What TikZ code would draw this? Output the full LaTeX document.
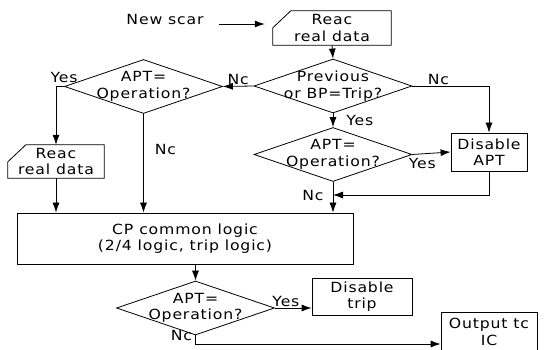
\documentclass[tikz,border=0pt]{standalone}
\usepackage{fontspec}
\setmainfont{DejaVu Sans}[FakeStretch=1.12, LetterSpace=6]
\usepackage{tikz}
\usetikzlibrary{calc,positioning,arrows.meta,shapes.geometric}
\tikzstyle{process}  = [rectangle, draw=black, line width=0.8pt, align=center, inner sep=0pt]
\tikzstyle{decision} = [diamond, draw=black, line width=0.8pt, minimum width=158pt, minimum height=54pt, inner sep=0pt]
\tikzstyle{datain}   = [align=center, inner sep=0pt]
\tikzstyle{line}     = [line width=0.8pt]
\tikzstyle{arrow}    = [line width=0.8pt, -{Latex[length=10pt,width=7pt]}]
\tikzstyle{lbl}      = [inner sep=1pt]
% outline of a manual input box (cut top left corner)
\newcommand{\datashape}[1]{\draw[line] (#1.south west) -- ([yshift=-17pt]#1.north west) -- ([xshift=18pt]#1.north west) -- (#1.north east) -- (#1.south east) -- cycle;}

\begin{document}
\begin{tikzpicture}[x=1pt, y=-1pt, font=\fontsize{14}{16.5}\selectfont]
    \useasboundingbox (0,0) rectangle (547,350);
    \clip (0,0) rectangle (547,350);

    % input and first checks
    \node (scan) at (165,19) {New scar};
    \node[datain, minimum width=118pt, minimum height=34pt] (readA) at (332,28) {Reac\\real data};
    \datashape{readA}
    \node[decision, label={[align=center]center:Previous\\or BP=Trip?}] (prev) at (333,86) {};
    \node[decision, label={[align=center]center:APT=\\Operation?}] (aptL) at (143.5,86.5) {};
    \node[decision, label={[align=center]center:APT=\\Operation?}] (aptR) at (333,154.5) {};
    \node[process, minimum width=76pt, minimum height=38pt] (disAPT) at (489,152) {Disable\\APT};
    \node[datain, minimum width=96pt, minimum height=33pt] (readB) at (56,161.5) {Reac\\real data};
    \datashape{readB}

    % common logic and output
    \node[process, minimum width=336pt, minimum height=51pt] (cp) at (185,238.5) {CP common logic\\(2/4 logic, trip logic)};
    \node[decision, label={[align=center]center:APT=\\Operation?}] (aptC) at (195.5,308) {};
    \node[process, minimum width=100pt, minimum height=37pt] (disTrip) at (362,296.5) {Disable\\trip};
    \node[process, minimum width=96pt, minimum height=40pt] (out) at (489,332) {Output tc\\IC};
    \coordinate (merge) at (333,195);

    % connectors
    \draw[arrow, shorten <=12pt, shorten >=8pt] (scan.base east) -- (scan.base east -| readA.west);
    \draw[arrow] (readA.south) -- (prev.north);
    \draw[arrow] (prev.west) -- node[lbl, above] (no1) {Nc} (aptL.east);
    \draw[arrow] (prev.east) -| node[lbl, pos=0.17, above] (no2) {Nc} (disAPT.north);
    \draw[arrow] (prev.south) -- node[lbl, right=12pt] (yes1) {Yes} (aptR.north);
    \draw[arrow] (aptR.east) -- node[lbl, pos=0.26, below=3pt] (yes2) {Yes} (disAPT.west);
    \draw[arrow] (disAPT.south) |- (merge);
    \draw[arrow] (aptR.south) -- node[lbl, pos=0.45, left=8pt] (no3) {Nc} (aptR.south |- cp.north);
    \draw[arrow] (aptL.west) -| node[lbl, pos=0, above, yshift=2pt] (yes3) {Yes} (readB.north);
    \draw[arrow] (aptL.south) -- node[lbl, pos=0.36, right=10pt] (no4) {Nc} (aptL.south |- cp.north);
    \draw[arrow] (readB.south) -- (readB.south |- cp.north);
    \draw[arrow] (aptC.north |- cp.south) -- (aptC.north);
    \draw[arrow] (aptC.east) -- node[lbl, pos=0.3, above] (yes4) {Yes} (aptC.east -| disTrip.west);
    \draw[arrow] (aptC.south) |- node[lbl, pos=0, left=2pt] (no5) {Nc} ([yshift=-12pt]out.west);
\end{tikzpicture}
\end{document}
